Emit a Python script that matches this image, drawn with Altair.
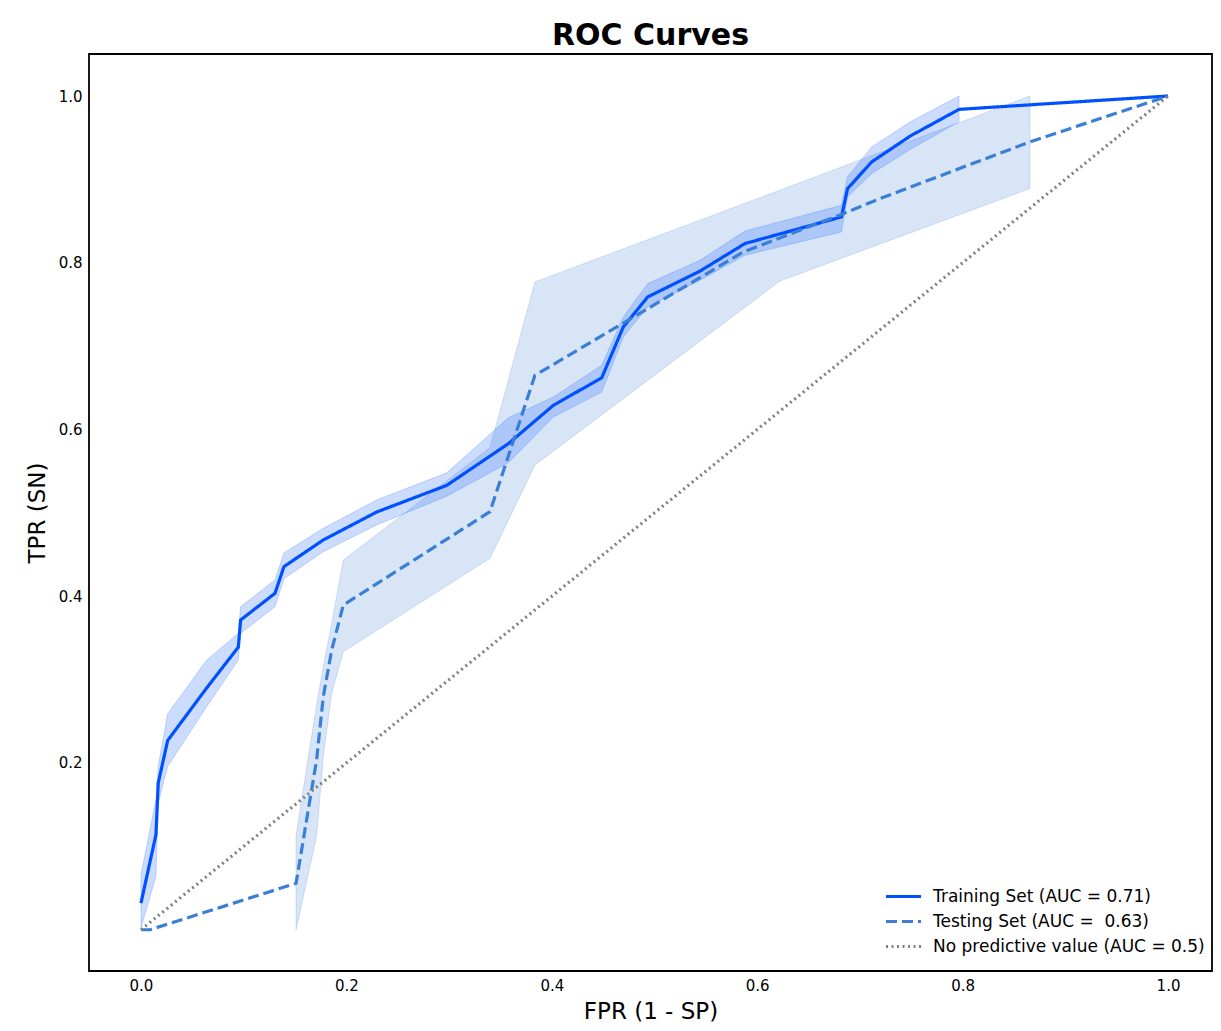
import altair as alt
import pandas as pd

# ---- data ----
train_fpr = [0.0, 0.0146, 0.0168, 0.026, 0.064, 0.0948, 0.097, 0.1305, 0.1392, 0.1775, 0.2295,
             0.2977, 0.3577, 0.4015, 0.4486, 0.4696, 0.4934, 0.5443, 0.588, 0.682, 0.688,
             0.7115, 0.749, 0.7965, 1.0]
train_tpr = [0.032, 0.114, 0.176, 0.227, 0.29, 0.339, 0.3715, 0.4035, 0.4355, 0.4675, 0.501,
             0.533, 0.583, 0.629, 0.662, 0.723, 0.759, 0.790, 0.823, 0.855, 0.889,
             0.921, 0.952, 0.984, 1.0]
train_band_fpr = train_fpr[:-1]
train_lo = [0.002, 0.064, 0.152, 0.196, 0.2675, 0.3235, 0.3555, 0.3875, 0.421, 0.4535, 0.4855,
            0.52, 0.56, 0.615, 0.645, 0.711, 0.747, 0.779, 0.809, 0.837, 0.879,
            0.907, 0.936, 0.969]
train_hi = [0.066, 0.156, 0.196, 0.259, 0.3235, 0.3555, 0.3875, 0.4195, 0.452, 0.4815, 0.5155,
            0.548, 0.614, 0.639, 0.677, 0.735, 0.775, 0.803, 0.838, 0.869, 0.903,
            0.939, 0.969, 1.0]

test_fpr = [0.0, 0.0088, 0.151, 0.171, 0.1775, 0.1857, 0.197, 0.3398, 0.3836, 0.4934,
            0.5865, 0.682, 0.7196, 0.8656, 1.0]
test_tpr = [0.0, 0.0, 0.0557, 0.2036, 0.2795, 0.3355, 0.3895, 0.5014, 0.665, 0.745,
            0.813, 0.858, 0.877, 0.945, 1.0]
test_band_fpr = [0.151, 0.171, 0.1775, 0.1857, 0.197, 0.3398, 0.3836, 0.622, 0.8656]
test_lo = [0.0, 0.112, 0.2075, 0.2836, 0.3335, 0.4455, 0.5575, 0.778, 0.889]
test_hi = [0.113, 0.27, 0.3155, 0.3675, 0.4435, 0.578, 0.777, 0.887, 1.0]

chance_fpr = [0.0, 1.0]
chance_tpr = [0.0, 1.0]

labels = ["Training Set (AUC = 0.71)",
          "Testing Set (AUC =\u00a0 0.63)",
          "No predictive value (AUC = 0.5)"]
x_ticks = [0.0, 0.2, 0.4, 0.6, 0.8, 1.0]
y_ticks = [0.2, 0.4, 0.6, 0.8, 1.0]

TRAIN_C = "#0050FF"
TEST_C = "#3A7FD5"
CHANCE_C = "#808080"

# ---- tables ----
lines = pd.concat([
    pd.DataFrame({"fpr": train_fpr, "tpr": train_tpr, "series": labels[0]}),
    pd.DataFrame({"fpr": test_fpr, "tpr": test_tpr, "series": labels[1]}),
    pd.DataFrame({"fpr": chance_fpr, "tpr": chance_tpr, "series": labels[2]}),
], ignore_index=True)
train_band = pd.DataFrame({"fpr": train_band_fpr, "lo": train_lo, "hi": train_hi})
test_band = pd.DataFrame({"fpr": test_band_fpr, "lo": test_lo, "hi": test_hi})

xscale = alt.Scale(domain=[-0.0506, 1.0428], nice=False, zero=False)
yscale = alt.Scale(domain=[-0.0495, 1.0504], nice=False, zero=False)

xaxis = alt.Axis(values=x_ticks, format=".1f", title="FPR (1 - SP)", grid=False,
                 domain=False, ticks=False, labelPadding=7, titlePadding=7,
                 labelFontSize=15, titleFontSize=23, labelColor="#000", titleColor="#000",
                 titleFontWeight="normal")
yaxis = alt.Axis(values=y_ticks, format=".1f", title="TPR (SN)", grid=False,
                 domain=False, ticks=False, labelPadding=7, titlePadding=9,
                 labelFontSize=15, titleFontSize=23, labelColor="#000", titleColor="#000",
                 titleFontWeight="normal")

legend = alt.Legend(title=None, orient="none", legendX=795, legendY=830,
                    symbolType="stroke", symbolSize=1225, symbolStrokeWidth=3,
                    labelFontSize=17, labelColor="#000", rowPadding=0, clipHeight=25,
                    padding=0, labelOffset=10, labelLimit=400)

band_test = alt.Chart(test_band).mark_area(
    color=TEST_C, fillOpacity=0.2, stroke=TEST_C, strokeOpacity=0.2, strokeWidth=1
).encode(
    x=alt.X("fpr:Q", scale=xscale, axis=xaxis),
    y=alt.Y("lo:Q", scale=yscale, axis=yaxis),
    y2="hi:Q",
)
band_train = alt.Chart(train_band).mark_area(
    color=TRAIN_C, fillOpacity=0.2, stroke=TRAIN_C, strokeOpacity=0.2, strokeWidth=1
).encode(
    x=alt.X("fpr:Q", scale=xscale),
    y=alt.Y("lo:Q", scale=yscale),
    y2="hi:Q",
)

line_layer = alt.Chart(lines).mark_line().encode(
    x=alt.X("fpr:Q", scale=xscale),
    y=alt.Y("tpr:Q", scale=yscale),
    color=alt.Color("series:N", sort=labels,
                    scale=alt.Scale(domain=labels, range=[TRAIN_C, TEST_C, CHANCE_C]),
                    legend=legend),
    strokeDash=alt.StrokeDash("series:N", sort=labels,
                              scale=alt.Scale(domain=labels,
                                              range=[[1, 0], [11, 5], [2, 3.5]]),
                              legend=legend),
    strokeWidth=alt.StrokeWidth("series:N", sort=labels,
                                scale=alt.Scale(domain=labels, range=[3.2, 3.2, 2]),
                                legend=None),
    order=alt.Order("fpr:Q"),
)

chart = alt.layer(band_test, band_train, line_layer).properties(
    width=1123,
    height=917,
    title=alt.TitleParams("ROC Curves", fontSize=30, fontWeight="bold", color="#000",
                          offset=3, anchor="middle"),
    autosize=alt.AutoSizeParams(type="none"),
    padding={"left": 81, "top": 46, "right": 1, "bottom": 52},
).configure(
    font="DejaVu Sans",
).configure_view(
    stroke="#000", strokeWidth=1.8
)

chart.save("out.html", embed_options={"renderer": "svg", "actions": False})
